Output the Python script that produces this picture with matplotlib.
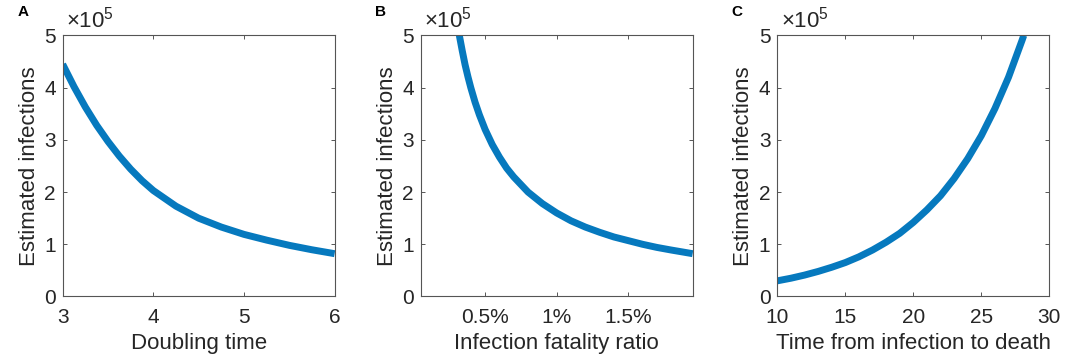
import numpy as np
import matplotlib
matplotlib.use('Agg')
import matplotlib.pyplot as plt

# Values (y in units of 1e5)
doubling_time = [3.0, 3.125, 3.25, 3.375, 3.5, 3.625, 3.75, 3.875, 4.0,
                 4.25, 4.5, 4.75, 5.0, 5.25, 5.5, 5.75, 6.0]
infections_a = [4.45, 4.02, 3.63, 3.28, 2.97, 2.69, 2.44, 2.22, 2.03,
                1.73, 1.50, 1.33, 1.19, 1.08, 0.98, 0.895, 0.82]

ifr_pct = [0.32, 0.34, 0.36, 0.38, 0.40, 0.43, 0.46, 0.50, 0.55, 0.60, 0.65, 0.70,
           0.80, 0.90, 1.0, 1.1, 1.2, 1.3, 1.4, 1.5, 1.6, 1.7, 1.8, 1.95]
infections_b = [5.0, 4.71, 4.44, 4.21, 4.0, 3.72, 3.48, 3.2, 2.91, 2.67, 2.46, 2.29,
                2.0, 1.78, 1.6, 1.45, 1.33, 1.23, 1.14, 1.07, 1.0, 0.94, 0.89, 0.82]

time_to_death = [10, 11, 12, 13, 14, 15, 16, 17, 18, 19, 20, 21, 22, 23, 24, 25, 26,
                 27, 28, 28.12]
infections_c = [0.30, 0.35, 0.41, 0.48, 0.56, 0.65, 0.76, 0.89, 1.04, 1.21, 1.42, 1.66,
                1.93, 2.26, 2.64, 3.08, 3.60, 4.20, 4.91, 5.0]

plt.rcParams['font.family'] = ['Liberation Sans', 'DejaVu Sans']
plt.rcParams['mathtext.fontset'] = 'custom'
plt.rcParams['mathtext.rm'] = 'Liberation Sans'
plt.rcParams['mathtext.it'] = 'Liberation Sans'

line_color = '#0679BE'
text_color = '#262626'
axis_color = '#555555'

fig = plt.figure(figsize=(10.84, 3.61), dpi=100)

panels = [
    ('A', 0.0578, doubling_time, infections_a, 'Doubling time', (3, 6), [3, 4, 5, 6], None),
    ('B', 0.3881, ifr_pct, infections_b, 'Infection fatality ratio', (0.05, 1.95),
     [0.5, 1.0, 1.5], ['0.5%', '1%', '1.5%']),
    ('C', 0.7171, time_to_death, infections_c, 'Time from infection to death', (10, 30),
     [10, 15, 20, 25, 30], None),
]

for letter, left, x, y, xlabel, xlim, xticks, xticklabels in panels:
    ax = fig.add_axes([left, 0.1787, 0.2509, 0.723])
    ax.plot(x, y, color=line_color, linewidth=5, solid_capstyle='butt')
    ax.set_xlim(*xlim)
    ax.set_ylim(0, 5)
    ax.set_xticks(xticks)
    if xticklabels:
        ax.set_xticklabels(xticklabels)
    ax.set_yticks([0, 1, 2, 3, 4, 5])
    ax.tick_params(direction='in', length=3, width=0.7, top=True, right=True,
                   labelsize=15, colors=axis_color, labelcolor=text_color, pad=5)
    ax.tick_params(axis='x', pad=8.5)
    for s in ax.spines.values():
        s.set_color(axis_color)
        s.set_linewidth(0.8)
    ax.set_xlabel(xlabel, fontsize=16, color=text_color, labelpad=4)
    ax.set_ylabel('Estimated infections', fontsize=16, color=text_color, labelpad=3)
    ax.text(0.012, 1.01, r'$\times10^{5}$', transform=ax.transAxes, fontsize=16,
            color=text_color, ha='left', va='bottom')
    fig.text(left - 0.042, 0.968, letter, fontsize=11, fontweight='bold',
             color='black', ha='left', va='center')

fig.savefig('out.png', dpi=100)
